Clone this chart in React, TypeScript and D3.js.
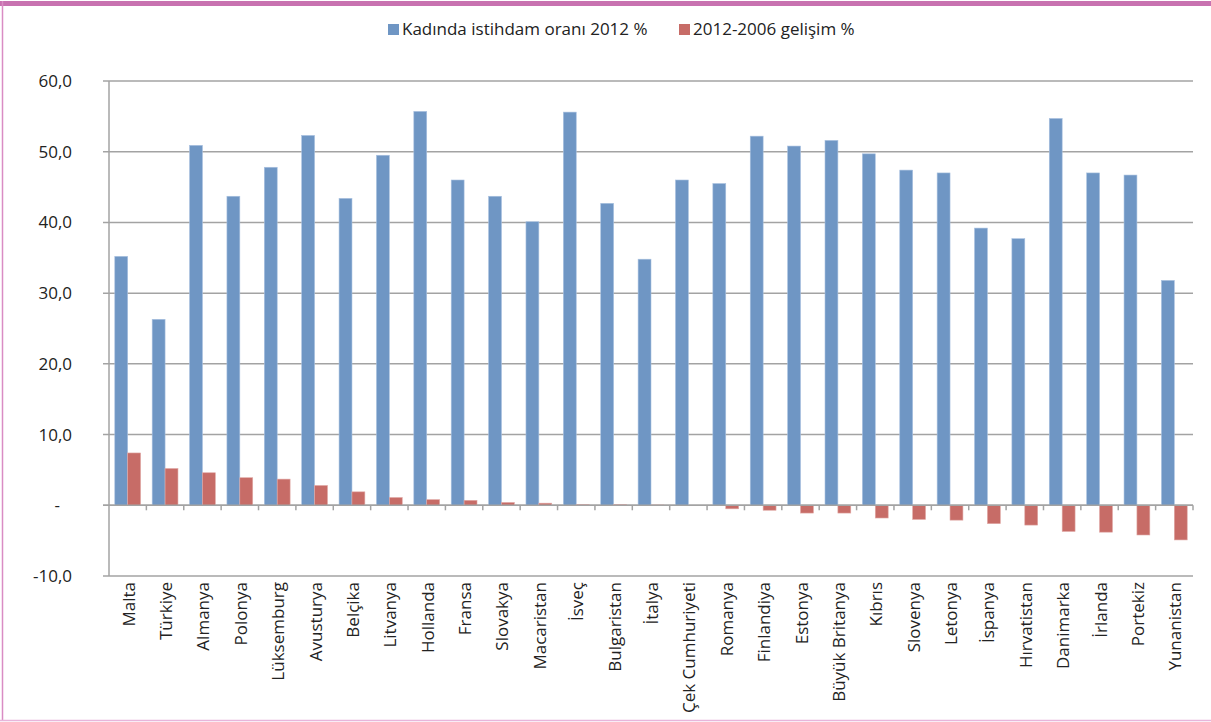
import React from "react";
import * as d3 from "d3";

const categories = [
  "Malta", "Türkiye", "Almanya", "Polonya", "Lüksemburg", "Avusturya", "Belçika",
  "Litvanya", "Hollanda", "Fransa", "Slovakya", "Macaristan", "İsveç", "Bulgaristan",
  "İtalya", "Çek Cumhuriyeti", "Romanya", "Finlandiya", "Estonya", "Büyük Britanya",
  "Kıbrıs", "Slovenya", "Letonya", "İspanya", "Hırvatistan", "Danimarka", "İrlanda",
  "Portekiz", "Yunanistan",
];
const employment2012 = [
  35.2, 26.3, 50.9, 43.7, 47.8, 52.3, 43.4, 49.5, 55.7, 46.0, 43.7, 40.1, 55.6, 42.7,
  34.8, 46.0, 45.5, 52.2, 50.8, 51.6, 49.7, 47.4, 47.0, 39.2, 37.7, 54.7, 47.0, 46.7, 31.8,
];
const change2006_2012 = [
  7.4, 5.2, 4.6, 3.9, 3.7, 2.8, 1.9, 1.1, 0.8, 0.7, 0.4, 0.3, 0.1, 0.1,
  0.05, 0.0, -0.5, -0.7, -1.1, -1.1, -1.8, -2.0, -2.1, -2.6, -2.8, -3.7, -3.8, -4.2, -4.9,
];
const seriesNames = ["Kadında istihdam oranı 2012 %", "2012-2006 gelişim %"];
const seriesColors = ["#6f96c4", "#c76c67"];
const yTicks = [-10, 0, 10, 20, 30, 40, 50, 60];

const W = 1211;
const H = 722;
const left = 109;
const right = 1193;
const top = 81;
const bottom = 576;
const font = "'Open Sans', 'Noto Sans', sans-serif";
const fs = 17;

export default function App() {
  const y = d3.scaleLinear().domain([-10, 60]).range([bottom, top]);
  const x0 = d3.scaleBand<string>().domain(categories).range([left, right]).paddingInner(0.31).paddingOuter(0.155);
  const step = x0.step();
  const x1 = d3.scaleBand<number>().domain([0, 1]).range([0, x0.bandwidth()]);
  const fmt = (v: number) => (v === 0 ? "-" : d3.format(".1f")(v).replace(".", ",").replace("\u2212", "-"));
  const series = [employment2012, change2006_2012];
  const bandStart = (i: number) => left + i * step;

  return (
    <svg width={W} height={H} style={{ position: "absolute", left: 0, top: 0, background: "#fff" }}>
      <rect x={0} y={0} width={W} height={H} fill="#fff" />
      {/* frame */}
      <rect x={0} y={1} width={W} height={5} fill="#c872b0" />
      <line x1={2.5} x2={2.5} y1={1} y2={721} stroke="#d98cc4" strokeWidth={1.5} />
      <line x1={0} x2={W} y1={720.5} y2={720.5} stroke="#e8b5da" strokeWidth={1.5} />

      {/* legend */}
      <g fontFamily={font} fontSize={fs} fill="#222">
        <rect x={388} y={24} width={11} height={11} fill={seriesColors[0]} />
        <text x={402} y={35}>{seriesNames[0]}</text>
        <rect x={679} y={24} width={11} height={11} fill={seriesColors[1]} />
        <text x={693} y={35}>{seriesNames[1]}</text>
      </g>

      {/* gridlines */}
      {yTicks.map((t) => (
        <g key={t}>
          <line x1={103} x2={right} y1={y(t)} y2={y(t)} stroke="#a3a3a3" strokeWidth={1.5} />
          <text x={72} y={y(t) + 6} textAnchor="end" fontFamily={font} fontSize={fs} fill="#222"
            dx={t === 0 ? -12 : 0}>
            {fmt(t)}
          </text>
        </g>
      ))}
      {/* y axis */}
      <line x1={left} x2={left} y1={top} y2={bottom} stroke="#a3a3a3" strokeWidth={1.5} />

      {/* bars */}
      {categories.map((c, i) => (
        <g key={c} transform={`translate(${x0(c)},0)`}>
          {series.map((s, k) => {
            const v = s[i];
            const y0 = y(0);
            const yv = y(v);
            return (
              <rect key={k} x={x1(k)} width={x1.bandwidth()} y={Math.min(y0, yv)}
                height={Math.abs(yv - y0)} fill={seriesColors[k]}
                stroke={k === 0 ? "#a9c1e0" : "#e0a8a5"} strokeWidth={0.6} />
            );
          })}
        </g>
      ))}

      {/* zero axis + ticks */}
      <line x1={103} x2={right} y1={y(0)} y2={y(0)} stroke="#a3a3a3" strokeWidth={1.5} />
      {d3.range(1, categories.length + 1).map((i) => (
        <line key={i} x1={bandStart(i)} x2={bandStart(i)} y1={y(0)} y2={y(0) + 5}
          stroke="#a3a3a3" strokeWidth={1.5} />
      ))}

      {/* x labels */}
      {categories.map((c) => {
        const cx = (x0(c) as number) + x0.bandwidth() / 2;
        return (
          <text key={c} transform={`translate(${cx + 7},${582}) rotate(-90)`} textAnchor="end"
            fontFamily={font} fontSize={fs} fill="#222">
            {c}
          </text>
        );
      })}
    </svg>
  );
}
